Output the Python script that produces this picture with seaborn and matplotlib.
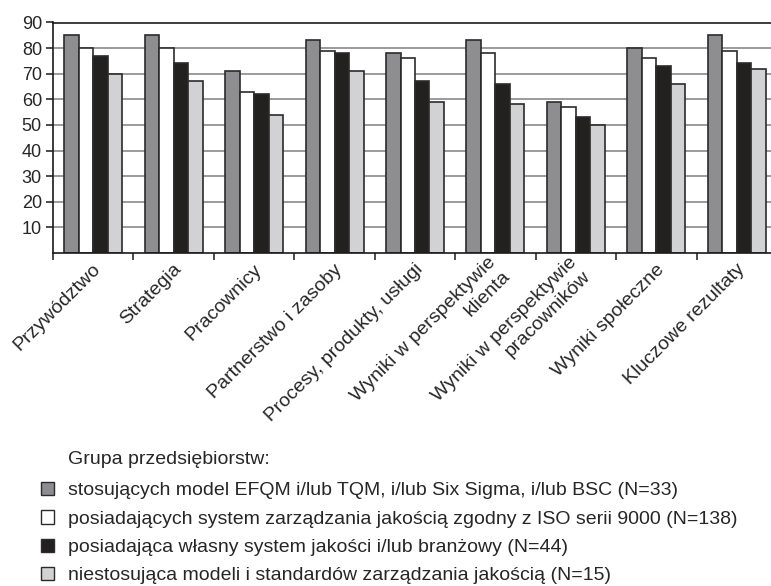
import pandas as pd
import matplotlib.pyplot as plt
import seaborn as sns
from matplotlib.patches import Patch
from matplotlib.ticker import FixedLocator
from matplotlib.transforms import ScaledTranslation

sns.set_style('white')
plt.rcParams['font.family'] = ['Liberation Sans', 'DejaVu Sans']

# kategorie (oś X)
kategorie = ['Przywództwo', 'Strategia', 'Pracownicy', 'Partnerstwo i zasoby',
             'Procesy, produkty, usługi', 'Wyniki w perspektywie\nklienta',
             'Wyniki w perspektywie\npracowników', 'Wyniki społeczne',
             'Kluczowe rezultaty']

# grupy przedsiębiorstw
grupy = ['stosujących model EFQM i/lub TQM, i/lub Six Sigma, i/lub BSC (N=33)',
         'posiadających system zarządzania jakością zgodny z ISO serii 9000 (N=138)',
         'posiadająca własny system jakości i/lub branżowy (N=44)',
         'niestosująca modeli i standardów zarządzania jakością (N=15)']

efqm = [85, 85, 71, 83, 78, 83, 59, 80, 85]
iso = [80, 80, 63, 79, 76, 78, 57, 76, 79]
wlasny = [77, 74, 62, 78, 67, 66, 53, 73, 74]
brak = [70, 67, 54, 71, 59, 58, 50, 66, 72]

kolory = ['#8d8d91', '#ffffff', '#231f20', '#d2d2d4']

# tabela w formacie długim
df = pd.DataFrame({'kategoria': kategorie, grupy[0]: efqm, grupy[1]: iso,
                   grupy[2]: wlasny, grupy[3]: brak})
df = df.melt(id_vars='kategoria', var_name='grupa', value_name='wartosc')

fig = plt.figure(figsize=(7.71, 5.86), dpi=100)
ax = fig.add_axes([53 / 771, 1 - 253 / 586, 724 / 771, 230.5 / 586])

sns.barplot(data=df, x='kategoria', y='wartosc', hue='grupa', order=kategorie,
            hue_order=grupy, palette=kolory, width=0.72, edgecolor='#2b2b2b',
            linewidth=1.2, legend=False, ax=ax)

ax.set_xlim(-0.5, len(kategorie) - 0.5)
ax.set_ylim(0, 90)
ax.set_yticks(range(10, 100, 10))
ax.set_xlabel('')
ax.set_ylabel('')

# siatka pozioma
ax.set_axisbelow(True)
ax.yaxis.grid(True, color='#8a8a8a', linewidth=1.2)

for side in ['left', 'bottom', 'top']:
    ax.spines[side].set_color('#1a1a1a')
    ax.spines[side].set_linewidth(1.2)
ax.spines['right'].set_visible(False)

ax.tick_params(axis='y', which='major', direction='out', length=5, width=1.1,
               color='#1a1a1a', labelsize=13, pad=3, left=True)
ax.tick_params(axis='x', which='major', length=0, labelsize=14, pad=10)
ax.xaxis.set_minor_locator(FixedLocator([i - 0.5 for i in range(len(kategorie) + 1)]))
ax.tick_params(axis='x', which='minor', direction='out', length=5, width=1.1,
               color='#1a1a1a', bottom=True)

ax.set_xticks(range(len(kategorie)))
ax.set_xticklabels(kategorie, rotation=45, ha='right', va='center',
                   rotation_mode='anchor')
# lekkie przesunięcie podpisów w prawo
przesun = ScaledTranslation(5 / 100, 0, fig.dpi_scale_trans)
for lbl in ax.get_xticklabels():
    lbl.set_transform(lbl.get_transform() + przesun)

# legenda
fig.text(68 / 771, 1 - 459 / 586, 'Grupa przedsiębiorstw:', fontsize=14,
         ha='left', va='center')
uchwyty = [Patch(facecolor=k, edgecolor='#2b2b2b', linewidth=1.0) for k in kolory]
fig.legend(uchwyty, grupy, loc='upper left',
           bbox_to_anchor=(41 / 771, 1 - 482 / 586), frameon=False,
           fontsize=14, handlelength=0.67, handleheight=0.67,
           handletextpad=0.72, labelspacing=0.56, borderpad=0, borderaxespad=0)

fig.savefig('out.png', dpi=100)
